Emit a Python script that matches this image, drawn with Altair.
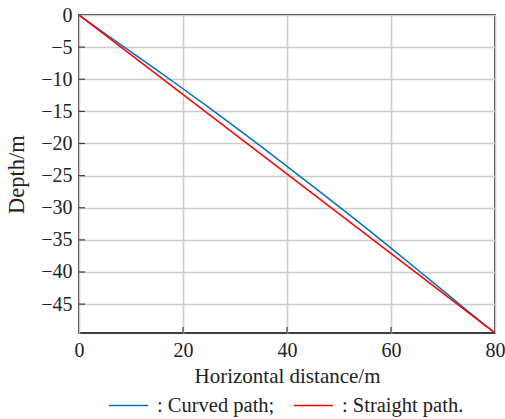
import altair as alt
import pandas as pd

# Curved path
curved_x = [0, 5, 10, 15, 20, 25, 30, 35, 40, 45, 50, 55, 60, 65, 70, 75, 80]
curved_depth = [0, -2.89, -5.74, -8.58, -11.48, -14.42, -17.41, -20.46, -23.55,
                -26.69, -29.84, -33.03, -36.28, -39.57, -42.91, -46.26, -49.5]
# Straight path
straight_x = [0, 80]
straight_depth = [0, -49.5]

series_names = ["Curved path", "Straight path"]
series_colors = ["#0072BD", "#FF0000"]
x_ticks = [0, 20, 40, 60, 80]
y_ticks = [0, -5, -10, -15, -20, -25, -30, -35, -40, -45]

rows = []
for x, d in zip(curved_x, curved_depth):
    rows.append({"x": x, "depth": d, "series": series_names[0]})
for x, d in zip(straight_x, straight_depth):
    rows.append({"x": x, "depth": d, "series": series_names[1]})
df = pd.DataFrame(rows)

FONT = "Liberation Serif"

xscale = alt.Scale(domain=[0, 80], nice=False, zero=False)
yscale = alt.Scale(domain=[-49.5, 0], nice=False, zero=False)

x_axis = alt.Axis(values=x_ticks, title="Horizontal distance/m", grid=True,
                  tickSize=0, labelPadding=7, titlePadding=5, domain=False,
                  labelOverlap=False, labelFlush=False)
y_axis = alt.Axis(values=y_ticks, title="Depth/m", grid=True,
                  tickSize=0, labelPadding=7, titlePadding=12, domain=False,
                  labelOverlap=False, labelFlush=False, titleFontSize=22.5)

lines = alt.Chart(df).mark_line(strokeWidth=1.5, clip=True).encode(
    x=alt.X("x:Q", scale=xscale, axis=x_axis),
    y=alt.Y("depth:Q", scale=yscale, axis=y_axis),
    color=alt.Color("series:N",
                    scale=alt.Scale(domain=series_names, range=series_colors),
                    legend=alt.Legend(
                        title=None, orient="none", direction="horizontal",
                        legendX=29, legendY=370,
                        symbolType="stroke", symbolSize=1521, symbolStrokeWidth=1.5,
                        labelFont=FONT, labelFontSize=20.5, labelColor="#222222",
                        columnPadding=16, labelOffset=8,
                        labelExpr="datum.label == 'Curved path' ? ': Curved path;' : ': Straight path.'",
                    )),
    order="x:Q",
)

# inward tick marks
ytick_df = pd.DataFrame({"v": y_ticks[1:]})
yt = alt.Chart(ytick_df).mark_tick(orient="horizontal", size=6, thickness=1.2,
                                    color="black", xOffset=3).encode(
    y=alt.Y("v:Q", scale=yscale, axis=y_axis), x=alt.value(0))
xtick_df = pd.DataFrame({"v": x_ticks[1:-1]})
xt = alt.Chart(xtick_df).mark_tick(orient="vertical", size=6, thickness=1.2,
                                    color="black", yOffset=-3).encode(
    x=alt.X("v:Q", scale=xscale, axis=x_axis), y=alt.value(318))

chart = alt.layer(lines, yt, xt).properties(
    width=416, height=318,
    background="white",
    autosize=alt.AutoSizeParams(type="none"),
    padding={"left": 79, "top": 15, "right": 10, "bottom": 86},
).configure_view(
    stroke="black", strokeWidth=1.5
).configure_axis(
    labelFont=FONT, titleFont=FONT, labelFontSize=20, titleFontSize=21,
    labelColor="#222222", titleColor="#222222", titleFontWeight="normal",
    gridColor="#cccccc", gridWidth=1.5, gridOpacity=1,
)

chart.save("out.html", embed_options={"renderer": "svg", "actions": False})
